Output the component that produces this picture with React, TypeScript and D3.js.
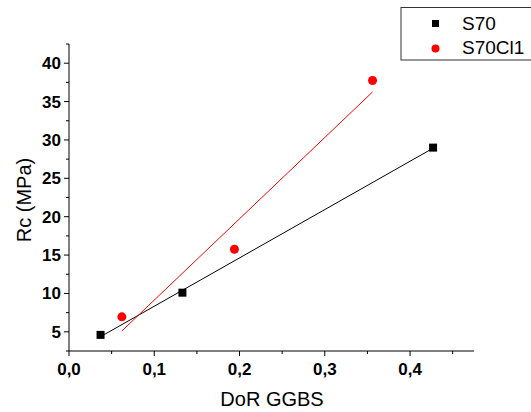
import React from "react";
import * as d3 from "d3";

const xTicks = [0, 0.1, 0.2, 0.3, 0.4];
const yTicks = [5, 10, 15, 20, 25, 30, 35, 40];
const s70X = [0.037, 0.133, 0.427];
const s70Y = [4.6, 10.1, 29.0];
const clX = [0.062, 0.194, 0.356];
const clY = [6.95, 15.75, 37.75];
const seriesNames = ["S70", "S70Cl1"];

function fit(xs: number[], ys: number[]) {
  const mx = d3.mean(xs)!;
  const my = d3.mean(ys)!;
  let sxy = 0, sxx = 0;
  xs.forEach((x, i) => { sxy += (x - mx) * (ys[i] - my); sxx += (x - mx) ** 2; });
  const b = sxy / sxx;
  const a = my - b * mx;
  return (x: number) => a + b * x;
}

export default function App() {
  const W = 531, H = 412;
  const L = 69, R = 474, T = 44, B = 351;
  const x = d3.scaleLinear().domain([0, 0.475]).range([L, R]);
  const y = d3.scaleLinear().domain([2.5, 42.5]).range([B, T]);
  const xMinor = d3.range(0.05, 0.475, 0.1);
  const yMinor = d3.range(2.5, 42.6, 5);
  const f1 = fit(s70X, s70Y);
  const f2 = fit(clX, clY);
  const x1a = d3.min(s70X)!, x1b = d3.max(s70X)!;
  const x2a = d3.min(clX)!, x2b = d3.max(clX)!;
  const font = "Arial, 'Liberation Sans', sans-serif";
  return (
    <svg width={W} height={H} style={{ position: "absolute", left: 0, top: 0, fontFamily: font }}>
      <rect width={W} height={H} fill="#fff" />
      <line x1={L} x2={L} y1={T} y2={B} stroke="#000" strokeWidth={1} />
      <line x1={L} x2={R} y1={B} y2={B} stroke="#000" strokeWidth={1} />
      {xTicks.map((t) => (
        <g key={"xt" + t}>
          <line x1={x(t)} x2={x(t)} y1={B} y2={B + 5} stroke="#000" />
          <text x={x(t)} y={B + 24} textAnchor="middle" fontSize={17} fontWeight="bold">
            {d3.format(".1f")(t).replace(".", ",")}
          </text>
        </g>
      ))}
      {xMinor.map((t) => (
        <line key={"xm" + t} x1={x(t)} x2={x(t)} y1={B} y2={B + 3} stroke="#000" />
      ))}
      {yTicks.map((t) => (
        <g key={"yt" + t}>
          <line x1={L - 5} x2={L} y1={y(t)} y2={y(t)} stroke="#000" />
          <text x={L - 8} y={y(t) + 6} textAnchor="end" fontSize={17} fontWeight="bold">{t}</text>
        </g>
      ))}
      {yMinor.map((t) => (
        <line key={"ym" + t} x1={L - 3} x2={L} y1={y(t)} y2={y(t)} stroke="#000" />
      ))}
      <text x={272} y={406} textAnchor="middle" fontSize={20}>DoR GGBS</text>
      <text transform={`translate(31,200) rotate(-90)`} textAnchor="middle" fontSize={20}>Rc (MPa)</text>
      <line x1={x(x1a)} y1={y(f1(x1a))} x2={x(x1b)} y2={y(f1(x1b))} stroke="#000" strokeWidth={1} />
      <line x1={x(x2a)} y1={y(f2(x2a))} x2={x(x2b)} y2={y(f2(x2b))} stroke="#ff0000" strokeWidth={1} />
      {s70X.map((v, i) => (
        <rect key={"s" + i} x={x(v) - 4} y={y(s70Y[i]) - 4} width={8} height={8} fill="#000" />
      ))}
      {clX.map((v, i) => (
        <circle key={"c" + i} cx={x(v)} cy={y(clY[i])} r={4.5} fill="#ff0000" />
      ))}
      <rect x={401} y={7.5} width={140} height={52.5} fill="#fff" stroke="#333" strokeWidth={1} />
      <rect x={432} y={20} width={7} height={7} fill="#000" />
      <text x={462} y={30} fontSize={19}>{seriesNames[0]}</text>
      <circle cx={435.5} cy={48.5} r={4} fill="#ff0000" />
      <text x={462} y={54} fontSize={19}>{seriesNames[1]}</text>
    </svg>
  );
}
